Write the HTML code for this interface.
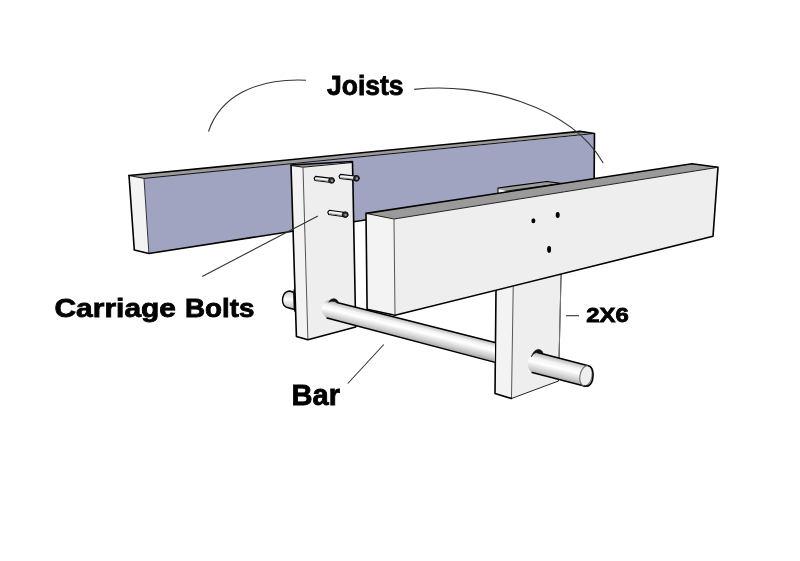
<!DOCTYPE html>
<html><head><meta charset="utf-8"><style>
html,body{margin:0;padding:0;background:#fff;width:800px;height:561px;overflow:hidden}
svg{display:block;will-change:transform}
text{font-family:"Liberation Sans",sans-serif;font-weight:bold;fill:#000;stroke:#000;stroke-width:0.8}
</style></head><body>
<svg width="800" height="561" viewBox="0 0 800 561">
<defs>
<linearGradient id="bar" gradientUnits="userSpaceOnUse" x1="412.2" y1="321.6" x2="407.7" y2="339.5">
<stop offset="0" stop-color="#b8b8b8"/>
<stop offset="0.25" stop-color="#f4f4f4"/>
<stop offset="0.45" stop-color="#ffffff"/>
<stop offset="0.8" stop-color="#cccccc"/>
<stop offset="1" stop-color="#a8a8a8"/>
</linearGradient>
<linearGradient id="stub" gradientUnits="userSpaceOnUse" x1="560" y1="358.8" x2="555" y2="379">
<stop offset="0" stop-color="#b8b8b8"/>
<stop offset="0.25" stop-color="#f4f4f4"/>
<stop offset="0.45" stop-color="#ffffff"/>
<stop offset="0.8" stop-color="#cccccc"/>
<stop offset="1" stop-color="#a8a8a8"/>
</linearGradient>
<linearGradient id="lstub" x1="0" y1="0" x2="0" y2="1">
<stop offset="0" stop-color="#c8c8c8"/>
<stop offset="0.45" stop-color="#ffffff"/>
<stop offset="1" stop-color="#b8b8b8"/>
</linearGradient>
</defs>
<g stroke-linejoin="round" stroke-linecap="round">
<!-- back joist -->
<polygon points="129,175.5 580,131.4 594.5,133.5 144,178.4" fill="#9a9a9a"/>
<polygon points="144,178.4 594.5,134 594,184.5 148.9,253.5" fill="#a0a4c0"/>
<polygon points="129,175.5 144,178.4 148.9,253.5 134.3,250" fill="#f3f3f3"/>
<polyline points="129,175.5 144,178.4 594.5,133.5" fill="none" stroke="#111" stroke-width="1"/>
<line x1="144" y1="178.4" x2="148.9" y2="253.5" stroke="#333" stroke-width="1"/>
<polyline points="129,175.5 580,131.4 594.5,133.5 594,195" fill="none" stroke="#000" stroke-width="1.6"/>
<polyline points="129,175.5 134.3,250 148.9,253.5 594,184.5" fill="none" stroke="#000" stroke-width="1.6"/>

<!-- post 2 top visible above front joist -->
<polygon points="498,194 498,188 547,181.5 562,183.5" fill="#9c9c9c" stroke="#000" stroke-width="1.1"/>
<polygon points="498.7,189.3 510,191.6 498.7,193.2" fill="#f5f5f5"/>
<line x1="505" y1="191.2" x2="559" y2="183.8" stroke="#111" stroke-width="0.8"/>

<!-- post 1 -->
<polygon points="291,165 352.5,161 352.5,163 303,167" fill="#9a9a9a"/>
<polygon points="291,165 303,167 307.9,339.7 296.4,336.4" fill="#f3f3f3"/>
<polygon points="303,167 352.5,161.5 355.7,327 307.9,339.7" fill="#eeeeee"/>
<polyline points="291,165.5 303,167.2 352.5,162.5" fill="none" stroke="#111" stroke-width="1"/>
<line x1="303" y1="167.2" x2="307.9" y2="339.7" stroke="#555" stroke-width="1"/>
<polyline points="291,165 296.4,336.4 307.9,339.7 355.7,327 352.5,161.5 291,165" fill="none" stroke="#000" stroke-width="1.6"/>

<!-- bolts -->
<g transform="translate(314.1,178.3) rotate(7)"><path d="M0,0 L1.2,-2.1 L15.5,-2.1 L15.5,2.1 L1.2,2.1 Z" fill="#f4f4f4" stroke="#000" stroke-width="1.1"/><line x1="2" y1="1.2" x2="15" y2="1.2" stroke="#777" stroke-width="0.8"/><circle cx="17.6" cy="0" r="2.9" fill="#333" stroke="#000" stroke-width="0.8"/><circle cx="18" cy="0.2" r="1.2" fill="#999"/></g>
<g transform="translate(339,176.3) rotate(6.5)"><path d="M0,0 L1.2,-2.1 L15.5,-2.1 L15.5,2.1 L1.2,2.1 Z" fill="#f4f4f4" stroke="#000" stroke-width="1.1"/><line x1="2" y1="1.2" x2="15" y2="1.2" stroke="#777" stroke-width="0.8"/><circle cx="17.6" cy="0" r="2.9" fill="#333" stroke="#000" stroke-width="0.8"/><circle cx="18" cy="0.2" r="1.2" fill="#999"/></g>
<g transform="translate(327.8,212.2) rotate(8)"><path d="M0,0 L1.2,-2.1 L15.5,-2.1 L15.5,2.1 L1.2,2.1 Z" fill="#f4f4f4" stroke="#000" stroke-width="1.1"/><line x1="2" y1="1.2" x2="15" y2="1.2" stroke="#777" stroke-width="0.8"/><circle cx="17.6" cy="0" r="2.9" fill="#333" stroke="#000" stroke-width="0.8"/><circle cx="18" cy="0.2" r="1.2" fill="#999"/></g>

<!-- left stub of bar -->
<path d="M294,292.5 L290,291 C284,291 282.5,297 282.5,300 C282.5,305 285,307.5 289,308 L294.5,309.5 Z" fill="url(#lstub)" stroke="#000" stroke-width="1.4"/>
<line x1="294.2" y1="290" x2="294.8" y2="311" stroke="#000" stroke-width="1.6"/>

<!-- post 2 -->
<polygon points="496,289.6 513.2,287 511.5,398.5 495,393.5" fill="#f3f3f3"/>
<polygon points="513.2,287 561.1,273.4 558.5,381 511.5,398.5" fill="#eeeeee"/>
<line x1="513.2" y1="287" x2="511.5" y2="398.5" stroke="#555" stroke-width="1"/>
<polyline points="561.1,273.4 558.5,381 511.5,398.5" fill="none" stroke="#222" stroke-width="1"/>
<line x1="561.1" y1="273.4" x2="558.7" y2="372" stroke="#777" stroke-width="1"/>
<polyline points="496,289.6 495,393.5 511.5,398.5" fill="none" stroke="#000" stroke-width="1.6"/>

<!-- front joist -->
<polygon points="366,213.4 692,163.7 718,167.3 394,219" fill="#9a9a9a"/>
<polygon points="366,213.4 394,219 395,315.3 367.1,309.3" fill="#f3f3f3"/>
<polygon points="394,219 718,167.3 713,236.3 395,315.3" fill="#eeeeee"/>
<polyline points="366,213.4 394,219 718,167.3" fill="none" stroke="#222" stroke-width="1"/>
<line x1="394" y1="219" x2="395" y2="314.4" stroke="#555" stroke-width="1"/>
<polyline points="366,213.4 692,163.7 718,167.3 713,236.3 395,315.3 367.1,309.3 366,213.4" fill="none" stroke="#000" stroke-width="1.6"/>
<ellipse cx="533.4" cy="220.8" rx="2" ry="2.5"/>
<ellipse cx="557.7" cy="215" rx="2" ry="3"/>
<ellipse cx="549.1" cy="249.4" rx="2" ry="3.4"/>

<!-- bar -->
<path d="M337,302.5 L495,342.5 L495,362.4 L327,318 C320.5,314 320,304 327,300.5 C330.5,299.3 334,300.3 337,302.5 Z" fill="url(#bar)"/>
<line x1="337" y1="302.5" x2="495" y2="342.5" stroke="#000" stroke-width="1.4"/>
<line x1="327" y1="318" x2="495" y2="362.4" stroke="#000" stroke-width="1.4"/>
<path d="M329,302 C330,299.5 332,298.5 334.5,298.8 C336.5,299.2 338,300.8 338.5,302.7 L337,302.5 C334,301 331,301 329,302 Z" fill="#111" stroke="#111" stroke-width="0.6"/>
<!-- right stub -->
<path d="M537.5,352.5 L588.4,365.7 L584.2,386 L532.1,372.5 C526.5,368.5 526.5,359 531.5,355.5 C533,352 535,350 538,349.8 Z" fill="url(#stub)"/>
<line x1="537.5" y1="352.5" x2="588.4" y2="365.7" stroke="#000" stroke-width="1.4"/>
<line x1="532.1" y1="372.5" x2="584.2" y2="386" stroke="#000" stroke-width="1.4"/>
<path d="M531.5,356.5 C533,352.5 535,349.8 538.4,349.4 C540.5,349.5 542.5,351 543,353.2 L537.5,352.5 C535,352.5 533,354 531.5,356.5 Z" fill="#111" stroke="#111" stroke-width="0.6"/>
<ellipse cx="586" cy="375.8" rx="6" ry="10.3" fill="#efefef" stroke="#666" stroke-width="1" transform="rotate(12 586 375.8)"/>
<path d="M588.4,365.7 C593,367 594,374 592.5,380 C591,385 588,387 584.2,386" fill="none" stroke="#000" stroke-width="1.6"/>
</g>

<!-- leader lines -->
<g fill="none" stroke="#333" stroke-width="1.1">
<path d="M208.5,131.5 C220,97 255,78 306,80.2"/>
<path d="M414.2,89.4 C480,82 570,105 603.2,162.9"/>
<line x1="202.2" y1="276.5" x2="317.9" y2="216"/>
<line x1="347.8" y1="383.5" x2="383.8" y2="344.5"/>
<line x1="566" y1="315.7" x2="579" y2="315.7"/>
</g>

<text x="327" y="95" font-size="27.5" textLength="76.5" lengthAdjust="spacingAndGlyphs">Joists</text>
<text x="54.5" y="316.6" font-size="26.5" textLength="121.5" lengthAdjust="spacingAndGlyphs">Carriage</text>
<text x="185" y="316.6" font-size="26.5" textLength="69.5" lengthAdjust="spacingAndGlyphs">Bolts</text>
<text x="291.5" y="404.8" font-size="29" textLength="48.5" lengthAdjust="spacingAndGlyphs">Bar</text>
<text x="586.3" y="321.5" font-size="19.5" textLength="42.5" lengthAdjust="spacingAndGlyphs">2X6</text>
</svg>
</body></html>
